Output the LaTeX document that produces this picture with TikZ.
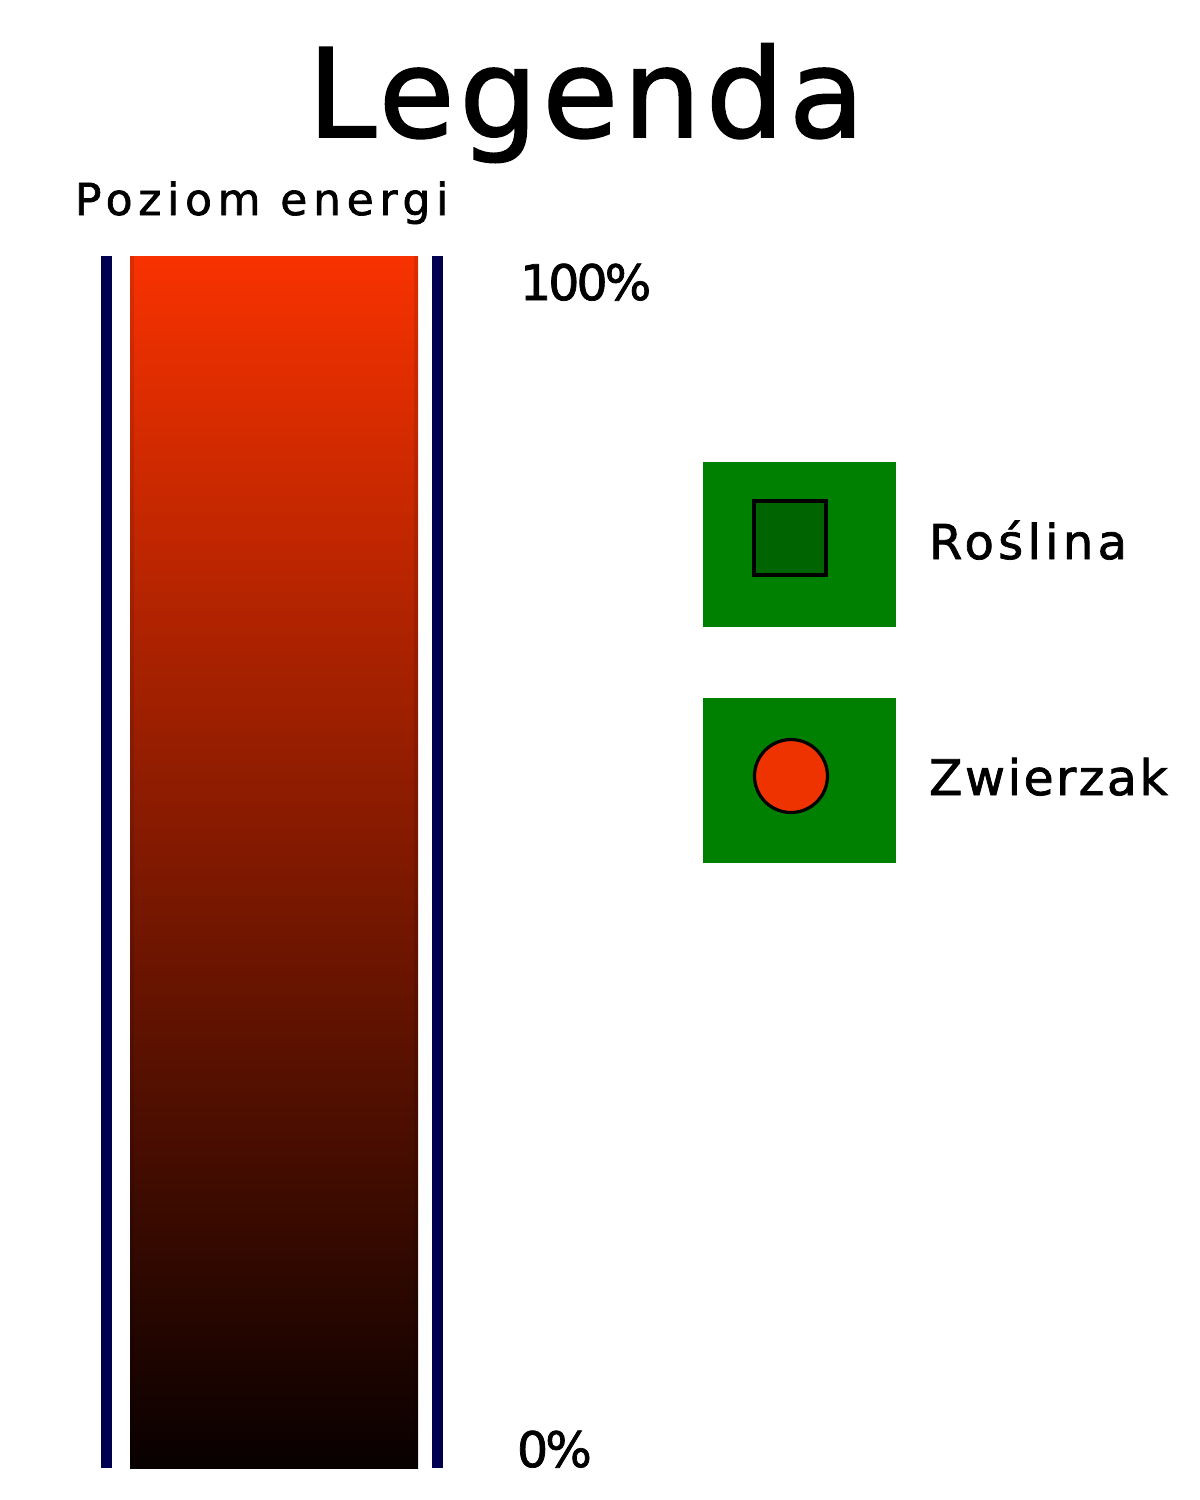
\documentclass[tikz,border=0pt]{standalone}
\usepackage{fontspec}
\setmainfont{DejaVu Sans}
\newfontfamily\ttlfont[LetterSpace=4,FakeBold=1.5]{DejaVu Sans}
\newfontfamily\poziomfont[LetterSpace=13,FakeBold=1.5]{DejaVu Sans}
\newfontfamily\rosfont[LetterSpace=9,FakeBold=1.5]{DejaVu Sans}
\newfontfamily\zwfont[LetterSpace=5,FakeBold=1.5]{DejaVu Sans}
\newfontfamily\pctfont[LetterSpace=-6,FakeBold=1.5]{DejaVu Sans}
\definecolor{barTop}{RGB}{248,50,0}
\definecolor{barBot}{RGB}{8,0,0}
\definecolor{navyline}{RGB}{0,0,80}
\definecolor{legGreen}{RGB}{0,128,0}
\definecolor{plantGreen}{RGB}{0,100,0}
\definecolor{animalRed}{RGB}{238,50,0}
\tikzset{
  lbl/.style={inner sep=0pt, outer sep=0pt, anchor=base west, text=black},
  legbox/.style={fill=legGreen, draw=none},
}
\begin{document}
\begin{tikzpicture}[x=0.5pt,y=-0.5pt]
\useasboundingbox (0,0) rectangle (1200,1500);
\fill[white] (0,0) rectangle (1200,1500);
% title
\node[inner sep=0pt, anchor=base] (title) at (586,137) {\ttlfont\fontsize{61.5}{70}\selectfont Legenda};
\node[lbl] (poziom) at (75,215) {\poziomfont\fontsize{22}{26}\selectfont Poziom energi};
% energy bar
\shade[top color=barTop, bottom color=barBot] (130,256) rectangle (418,1468);
\fill[black, opacity=0.1] (130,256) rectangle (134,1468);
\fill[black, opacity=0.1] (414,256) rectangle (418,1468);
\fill[navyline] (101,256) rectangle (112,1468);
\fill[navyline] (432,256) rectangle (443,1468);
\node[lbl] (p100) at (520,300) {\pctfont\fontsize{24.5}{28}\selectfont 100\%};
\node[lbl] (p0) at (517,1467) {\pctfont\fontsize{24.5}{28}\selectfont 0\%};
% legend boxes
\path[legbox] (703,462) rectangle (896,627);
\node[draw=black, line width=2pt, fill=plantGreen, minimum width=36pt, minimum height=37pt, inner sep=0pt] (plant) at (790,538) {};
\node[lbl] (roslina) at (929,559) {\rosfont\fontsize{24}{28}\selectfont Roślina};
\path[legbox] (703,698) rectangle (896,863);
\node[circle, draw=black, line width=1.6pt, fill=animalRed, minimum size=36.5pt, inner sep=0pt] (animal) at (791,776) {};
\node[lbl] (zwierzak) at (929,795) {\zwfont\fontsize{24.5}{28}\selectfont Zwierzak};
\end{tikzpicture}
\end{document}
